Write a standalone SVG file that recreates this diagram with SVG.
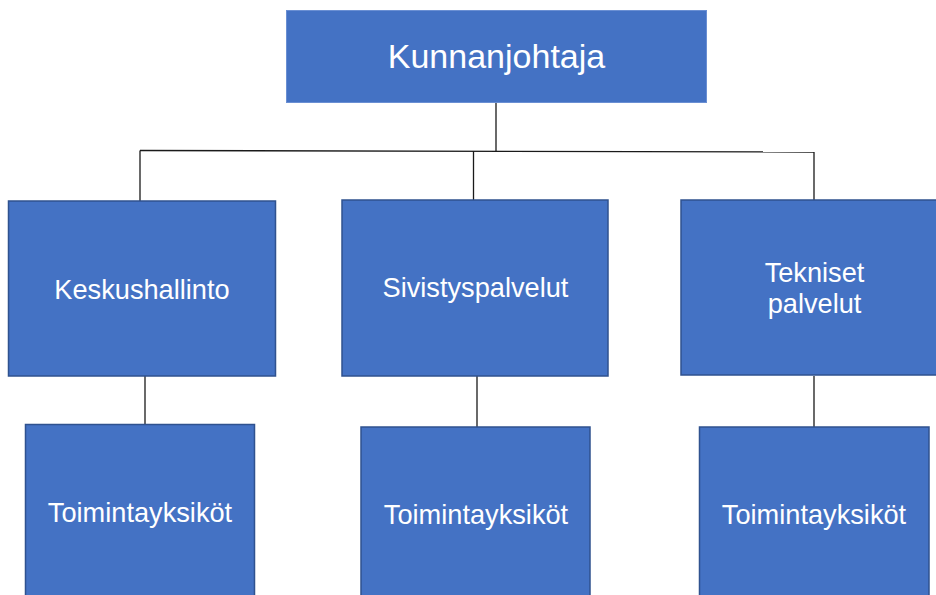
<svg xmlns="http://www.w3.org/2000/svg" width="936" height="595" viewBox="0 0 936 595">
<style>
.box{fill:#4472C4;stroke:#2F528F;stroke-width:1.5}
.top{fill:#4472C4;stroke:#6A8FD3;stroke-width:1}
.lbl{font-family:"Liberation Sans",Arial,sans-serif;font-size:27.2px;fill:#FFFFFF;text-anchor:middle}
.conn line{stroke:#1a1a1a;stroke-width:1.3}
</style>
<rect width="936" height="595" fill="#FFFFFF"/>
<g id="connectors" class="conn">
<line x1="496" y1="102" x2="496" y2="151"/>
<line x1="140" y1="150.5" x2="814" y2="152"/>
<line x1="140" y1="150.5" x2="140" y2="201"/>
<line x1="473.5" y1="151" x2="473.5" y2="200"/>
<line x1="814" y1="152" x2="814" y2="200"/>
<line x1="145" y1="376" x2="145" y2="425"/>
<line x1="477" y1="376" x2="477" y2="427"/>
<line x1="814" y1="376" x2="814" y2="427"/>
</g>
<g id="kunnanjohtaja">
<rect class="top" x="286.5" y="10.5" width="420" height="92"/>
<text class="lbl" x="496.5" y="68" style="font-size:34px">Kunnanjohtaja</text>
</g>
<g id="keskushallinto">
<rect class="box" x="8.5" y="201" width="267" height="175"/>
<text class="lbl" x="142" y="299">Keskushallinto</text>
</g>
<g id="sivistyspalvelut">
<rect class="box" x="342" y="200" width="266" height="176"/>
<text class="lbl" x="475.5" y="297">Sivistyspalvelut</text>
</g>
<g id="tekniset">
<rect class="box" x="681" y="200" width="262" height="175"/>
<text class="lbl" x="814.5" y="282">Tekniset</text>
<text class="lbl" x="814.5" y="313">palvelut</text>
</g>
<g id="toiminta1">
<rect class="box" x="25.5" y="424.5" width="229" height="180"/>
<text class="lbl" x="140" y="522">Toimintayksiköt</text>
</g>
<g id="toiminta2">
<rect class="box" x="361" y="427" width="229" height="180"/>
<text class="lbl" x="476" y="524">Toimintayksiköt</text>
</g>
<g id="toiminta3">
<rect class="box" x="699.5" y="427" width="229.5" height="180"/>
<text class="lbl" x="814" y="524">Toimintayksiköt</text>
</g>
</svg>
